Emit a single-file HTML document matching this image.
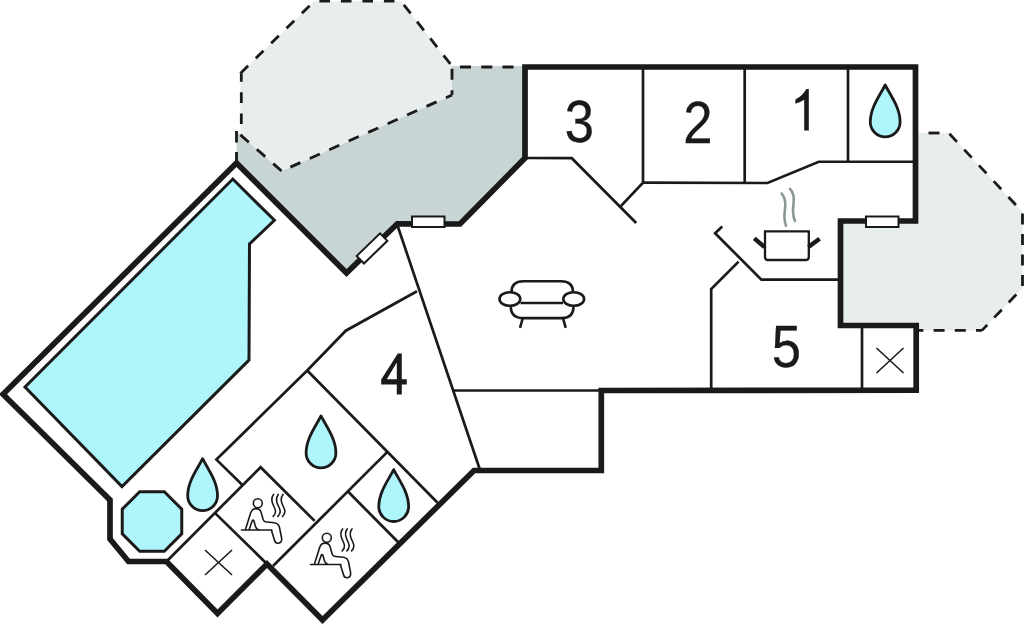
<!DOCTYPE html>
<html><head><meta charset="utf-8">
<style>
html,body{margin:0;padding:0;background:#fff;width:1024px;height:625px;overflow:hidden}
svg{display:block}
</style></head>
<body>
<svg width="1024" height="625" viewBox="0 0 1024 625">
<!-- dark grey terrace -->
<polygon points="452,66 525,66 525,158 460,224 397.3,223.8 346.5,273 236.5,163 236.5,131 240.4,134.9 281.6,171 452,95" fill="#c9d4d5"/>
<!-- light grey terraces -->
<polygon points="314.2,1.2 401,1.2 452,66 452,95 281.6,171 240.4,134.9 240.4,73.4" fill="#e8edee"/>
<polygon points="916,133 948.7,133 1022.5,212 1022.5,288 982,330.4 916,330.4 916,325 840,325 840,221 916,221" fill="#e8edee"/>
<!-- dashed outlines -->
<g fill="none" stroke="#1a1a1a" stroke-width="2.8">
<line x1="240.4" y1="73.4" x2="314.2" y2="1.2" stroke-dasharray="10.8,10.7" stroke-dashoffset="0"/>
<line x1="314.2" y1="1.2" x2="401" y2="1.2" stroke-dasharray="10.6,10.9" stroke-dashoffset="-5.2"/>
<line x1="401" y1="1.2" x2="452" y2="66" stroke-dasharray="11,10.4" stroke-dashoffset="-4.6"/>
<line x1="452" y1="66" x2="452" y2="95" stroke-dasharray="11,10.4" stroke-dashoffset="-2.8"/>
<line x1="452" y1="95" x2="281.6" y2="171" stroke-dasharray="11,10.3" stroke-dashoffset="4.4"/>
<line x1="240.4" y1="134.9" x2="281.6" y2="171" stroke-dasharray="11.2,10.6" stroke-dashoffset="0"/>
<line x1="241.3" y1="73.4" x2="241.3" y2="134.9" stroke-dasharray="10.6,10.6" stroke-dashoffset="2.3"/>
<line x1="236.5" y1="131" x2="236.5" y2="161" stroke-dasharray="11.5,9.5" stroke-dashoffset="0"/>
<line x1="452" y1="67" x2="525" y2="67" stroke-dasharray="11,10.25" stroke-dashoffset="-8"/>
<line x1="928.5" y1="133" x2="948.7" y2="133" stroke-dasharray="11,10.4" stroke-dashoffset="0"/>
<line x1="948.7" y1="133" x2="1022.5" y2="212" stroke-dasharray="11,10.6" stroke-dashoffset="-1.1"/>
<line x1="1022.5" y1="212" x2="1022.5" y2="288" stroke-dasharray="11,9.5" stroke-dashoffset="-1.4"/>
<line x1="1022.5" y1="288" x2="982" y2="330.4" stroke-dasharray="11,10" stroke-dashoffset="-9"/>
<line x1="982" y1="330.4" x2="918" y2="330.4" stroke-dasharray="11,10.2" stroke-dashoffset="5"/>
</g>
<!-- pool -->
<polygon points="232.8,179 274.4,220.3 249.5,244 249,360 122,486.5 25,387" fill="#aef6fb" stroke="#1a1a1a" stroke-width="3" stroke-linejoin="miter"/>
<polygon points="139.7,491.75 164.3,491.75 181.75,509.2 181.75,533.8 164.3,551.25 139.7,551.25 122.25,533.8 122.25,509.2" fill="#aef6fb" stroke="#1a1a1a" stroke-width="3"/>
<!-- thin interior lines -->
<g fill="none" stroke="#1a1a1a" stroke-width="2.7" stroke-linejoin="miter">
<polyline points="525,158 571.8,158.2 636.2,223"/>
<polyline points="643,67 643,182.6 620.6,206.4"/>
<polyline points="643,182.6 767.5,183 818.75,161.75 915,161.75"/>
<polyline points="744.7,67 744.7,183"/>
<polyline points="848,67 848,162"/>
<polyline points="722.2,226.6 715.1,233.3 761.4,279.6 840,279.6"/>
<polyline points="738.6,261.6 711.2,289 711.2,390.5"/>
<polyline points="862,325.5 862,390.5"/>
<polyline points="397,224 480,470"/>
<polyline points="417,291.25 345.8,330.7 307.2,370.5 216.4,459.6 242.4,485"/>
<polyline points="452.5,390.5 601,390.5"/>
<polyline points="307.2,370.5 437.6,502.7"/>
<polyline points="166.5,561.5 260.6,467.2 314.6,520.9"/>
<polyline points="214.85,512.85 267,564"/>
<polyline points="387.65,451.65 273,566"/>
<polyline points="348.2,491.8 399.75,543.75"/>
</g>
<!-- thick walls -->
<polygon points="525,67 915.5,67 915.5,221 840.5,221 840.5,325.5 916.2,325.5 916.2,390.2 601.3,390.5 601.3,470.5 474,470.5 322.5,620 267,564 217.5,613.5 166.5,561.5 128.5,561.5 110,539 110,500 3,394.2 236.5,163 346.5,273 397.3,223.8 460,224 525,158" fill="none" stroke="#1a1a1a" stroke-width="5.7" stroke-linejoin="miter"/>
<!-- windows -->
<g fill="#fff" stroke="#1a1a1a" stroke-width="2">
<rect x="412" y="216.5" width="32.5" height="10.5"/>
<rect x="866" y="216.5" width="32.5" height="10.5"/>
<rect x="-16.25" y="-5.25" width="32.5" height="10.5" transform="translate(372,248.4) rotate(-44)"/>
</g>
<!-- X marks -->
<g stroke="#1a1a1a" stroke-width="1.6">
<line x1="205" y1="550" x2="232" y2="575"/><line x1="205" y1="575" x2="232" y2="550"/>
<line x1="876.5" y1="348" x2="903.5" y2="373"/><line x1="876.5" y1="373" x2="903.5" y2="348"/>
</g>
<!-- drops -->
<g transform="translate(885.2,85)"><path d="M0,0 C5,10 14.9,22.5 14.9,37 A14.9,14.9 0 0 1 -14.9,37 C-14.9,22.5 -5,10 0,0 Z" fill="#aef6fb" stroke="#1a1a1a" stroke-width="2.8" stroke-linejoin="round"/></g>
<g transform="translate(321,415.9)"><path d="M0,0 C5,10 14.9,22.5 14.9,37 A14.9,14.9 0 0 1 -14.9,37 C-14.9,22.5 -5,10 0,0 Z" fill="#aef6fb" stroke="#1a1a1a" stroke-width="2.8" stroke-linejoin="round"/></g>
<g transform="translate(393.7,469.6)"><path d="M0,0 C5,10 14.9,22.5 14.9,37 A14.9,14.9 0 0 1 -14.9,37 C-14.9,22.5 -5,10 0,0 Z" fill="#aef6fb" stroke="#1a1a1a" stroke-width="2.8" stroke-linejoin="round"/></g>
<g transform="translate(202.6,458.7)"><path d="M0,0 C5,10 14.9,22.5 14.9,37 A14.9,14.9 0 0 1 -14.9,37 C-14.9,22.5 -5,10 0,0 Z" fill="#aef6fb" stroke="#1a1a1a" stroke-width="2.8" stroke-linejoin="round"/></g>
<g fill="none" stroke="#1a1a1a" stroke-width="1.6" stroke-linecap="round" stroke-linejoin="round">
<circle cx="257.8" cy="503.2" r="4.5"/>
<path d="M241.5,530 L271.9,530"/>
<path d="M245.5,529.5 L250.8,512.5 Q252.3,508.6 256,508.6 Q260,508.6 261,512 L263.2,519.8 Q264,521.8 266.5,522 L274.5,522.8 Q278.5,523.5 279.5,527.5 L281.6,538 Q282.2,542.8 278.2,543.2 Q275.3,543.4 274.6,540.5 L271.4,530.2"/>
<path d="M249.2,529.5 L252.2,520.8 Q253,519.4 253.9,520.8 L255.3,526 Q256.2,529 258.5,529.8"/>
<path d="M273.6,494.4 C271.5,497 271.3,500.5 273,504.5 S277.5,512 273.2,516.4"/>
<path d="M278.3,494.4 C276.2,497 276,500.5 277.7,504.5 S282.2,512 277.9,516.4"/>
<path d="M283,494.4 C280.9,497 280.7,500.5 282.4,504.5 S286.9,512 282.6,516.4"/>
</g>
<g transform="translate(69,34.5)"><g fill="none" stroke="#1a1a1a" stroke-width="1.6" stroke-linecap="round" stroke-linejoin="round">
<circle cx="257.8" cy="503.2" r="4.5"/>
<path d="M241.5,530 L271.9,530"/>
<path d="M245.5,529.5 L250.8,512.5 Q252.3,508.6 256,508.6 Q260,508.6 261,512 L263.2,519.8 Q264,521.8 266.5,522 L274.5,522.8 Q278.5,523.5 279.5,527.5 L281.6,538 Q282.2,542.8 278.2,543.2 Q275.3,543.4 274.6,540.5 L271.4,530.2"/>
<path d="M249.2,529.5 L252.2,520.8 Q253,519.4 253.9,520.8 L255.3,526 Q256.2,529 258.5,529.8"/>
<path d="M273.6,494.4 C271.5,497 271.3,500.5 273,504.5 S277.5,512 273.2,516.4"/>
<path d="M278.3,494.4 C276.2,497 276,500.5 277.7,504.5 S282.2,512 277.9,516.4"/>
<path d="M283,494.4 C280.9,497 280.7,500.5 282.4,504.5 S286.9,512 282.6,516.4"/>
</g></g>
<!-- sofa -->
<g fill="none" stroke="#1a1a1a" stroke-width="2.6">
<path d="M511.5,292 Q511.5,281.2 523.5,281.2 L561,281.2 Q573,281.2 573,292"/>
<ellipse cx="509.9" cy="299" rx="10.4" ry="6.8"/>
<ellipse cx="573.7" cy="299" rx="10.4" ry="6.8"/>
<path d="M520.5,303 L563,303"/>
<path d="M510.8,306.5 Q510.8,318.1 523.2,318.1 L562,318.1 Q573.5,318.1 573.5,306.5"/>
<path d="M522.8,318 L520,327.8 M563,318 L565.7,327.8"/>
</g>
<!-- pot -->
<g fill="none" stroke="#1a1a1a">
<path d="M765,231.3 L808.8,231.3 L808.8,257 Q808.8,260 805.8,260 L768,260 Q765,260 765,257 Z" stroke-width="2.3"/>
<path d="M754.3,238.4 L764.5,247 M808.4,247 L819.6,238.8" stroke-width="4.4"/>
</g>
<g fill="none" stroke="#8a9698" stroke-width="2.6" stroke-linecap="round">
<path d="M781.6,193.5 Q786.5,199 785,209 Q783.5,219 786,225.7"/>
<path d="M790,188.8 Q795,194 793.5,204 Q792,214 795,221"/>
</g>
<!-- text -->
<g font-family="Liberation Sans, sans-serif" font-size="58.5" fill="#1a1a1a" stroke="#1a1a1a" stroke-width="0.3" text-anchor="middle">
<text transform="translate(579.5,141.5) scale(0.9,1)">3</text>
<text transform="translate(697.8,143) scale(0.9,1)">2</text>
<text transform="translate(786.5,366.5) scale(0.9,1)">5</text>
</g>
<path fill-rule="evenodd" d="M397.8,353.4 L401.8,353.4 L401.8,379.2 L406.8,379.2 L406.8,384.6 L401.8,384.6 L401.8,394.5 L396.8,394.5 L396.8,384.6 L381.2,384.6 L381.2,379.6 Z M396.8,362.5 L386.8,379.2 L396.8,379.2 Z" fill="#1a1a1a"/>
<path d="M806.4,89 L808.8,89 L808.8,130.4 L804.2,130.4 L804.2,99.8 Q800,102.5 795.4,103.8 L795.4,99.4 Q802.5,96 806.4,89 Z" fill="#1a1a1a"/>
</svg>
</body></html>
